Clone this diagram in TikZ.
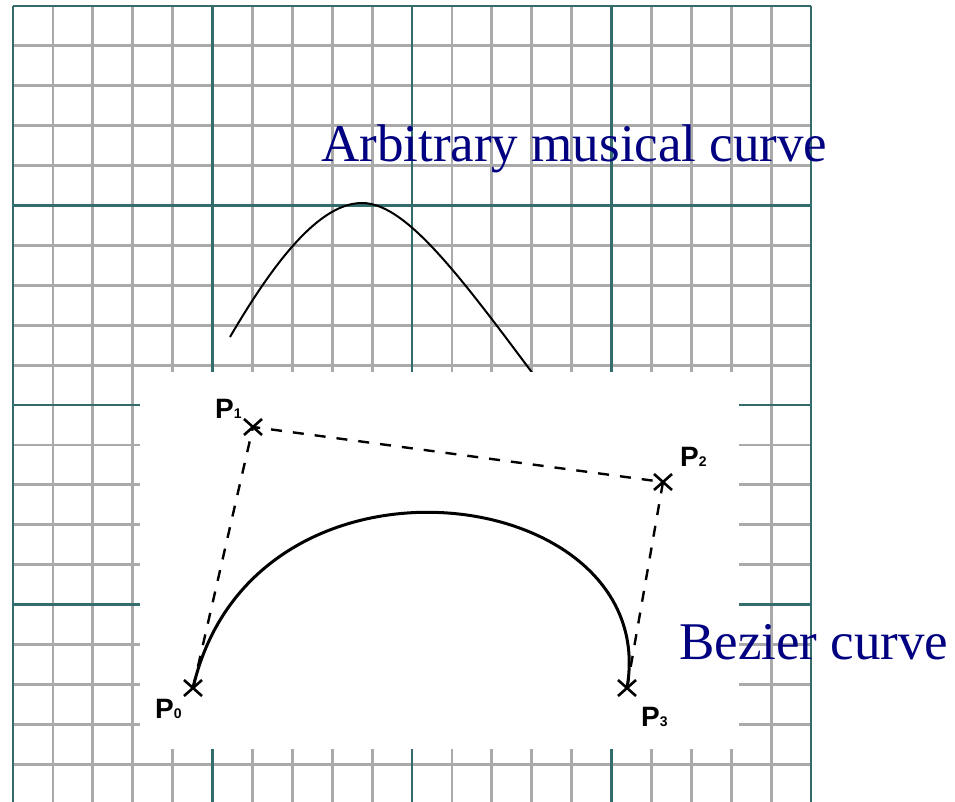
\documentclass[tikz,border=0pt]{standalone}
\usepackage{fontspec}
\setmainfont{Liberation Serif}
\newfontfamily\labfont{Liberation Sans}
\definecolor{gridgray}{RGB}{170,170,170}
\definecolor{gridteal}{RGB}{52,108,108}
\definecolor{navytext}{RGB}{0,0,128}
\begin{document}
\begin{tikzpicture}[x=1pt,y=-1pt,
  minorline/.style={draw=gridgray,line width=2.8pt},
  majorline/.style={draw=gridteal,line width=2.8pt},
  ctrlpoly/.style={draw=black,line width=2.4pt,dash pattern=on 11pt off 11pt},
  crossmark/.style={draw=black,line width=2.6pt},
  musiccurve/.style={draw=black,line width=2pt},
  beziercurve/.style={draw=black,line width=3pt},
  bigtext/.style={text=navytext,font=\fontsize{53}{60}\selectfont,inner sep=0pt,anchor=base west},
  ptlabel/.style={font=\labfont\bfseries\fontsize{28}{30}\selectfont,inner sep=0pt,anchor=base west},
  subfont/.style={},
]
\useasboundingbox (0,0) rectangle (955,802);
% grid
\foreach \k in {0,...,20} {
  \pgfmathsetmacro{\gx}{13+39.9*\k}
  \draw[minorline] (\gx,6) -- (\gx,802);
}
\foreach \k in {0,...,19} {
  \pgfmathsetmacro{\gy}{6+39.9*\k}
  \draw[minorline] (13,\gy) -- (811,\gy);
}
\foreach \k in {0,5,10,15,20} {
  \pgfmathsetmacro{\gx}{13+39.9*\k}
  \draw[majorline] (\gx,6) -- (\gx,802);
}
\foreach \k in {0,5,10,15} {
  \pgfmathsetmacro{\gy}{6+39.9*\k}
  \draw[majorline] (13,\gy) -- (811,\gy);
}
% arbitrary musical curve
\coordinate (mstart) at (230,337);
\coordinate (mpeak) at (362,203);
\coordinate (mend) at (560,410);
\draw[musiccurve] (mstart) .. controls (275,260) and (320,203) .. (mpeak)
  .. controls (410,203) and (470,290) .. (mend);
% white panel of the Bezier picture
\fill[white] (140,372) rectangle (739,749);
% control points
\coordinate (P0) at (193,688);
\coordinate (P1) at (253,427);
\coordinate (P2) at (663,482);
\coordinate (P3) at (627,688);
\draw[ctrlpoly] (P0) -- (P1) -- (P2) -- (P3);
\draw[beziercurve] (P0) .. controls (P1) and (P2) .. (P3);
\foreach \p in {P0,P1,P2,P3} {
  \draw[crossmark] (\p) +(-9,-8) -- +(9,8);
  \draw[crossmark] (\p) +(-9,8) -- +(9,-8);
}
\node[ptlabel] (L1) at (215,418) {P{\fontsize{14}{14}\selectfont 1}};
\node[ptlabel] (L2) at (680,466) {P{\fontsize{14}{14}\selectfont 2}};
\node[ptlabel] (L0) at (155,718) {P{\fontsize{14}{14}\selectfont 0}};
\node[ptlabel] (L3) at (641,726) {P{\fontsize{14}{14}\selectfont 3}};
% texts
\node[bigtext] (arb) at (321,162) {Arbitrary musical curve};
\node[bigtext] (bez) at (679,659) {Bezier curve};
\end{tikzpicture}
\end{document}
